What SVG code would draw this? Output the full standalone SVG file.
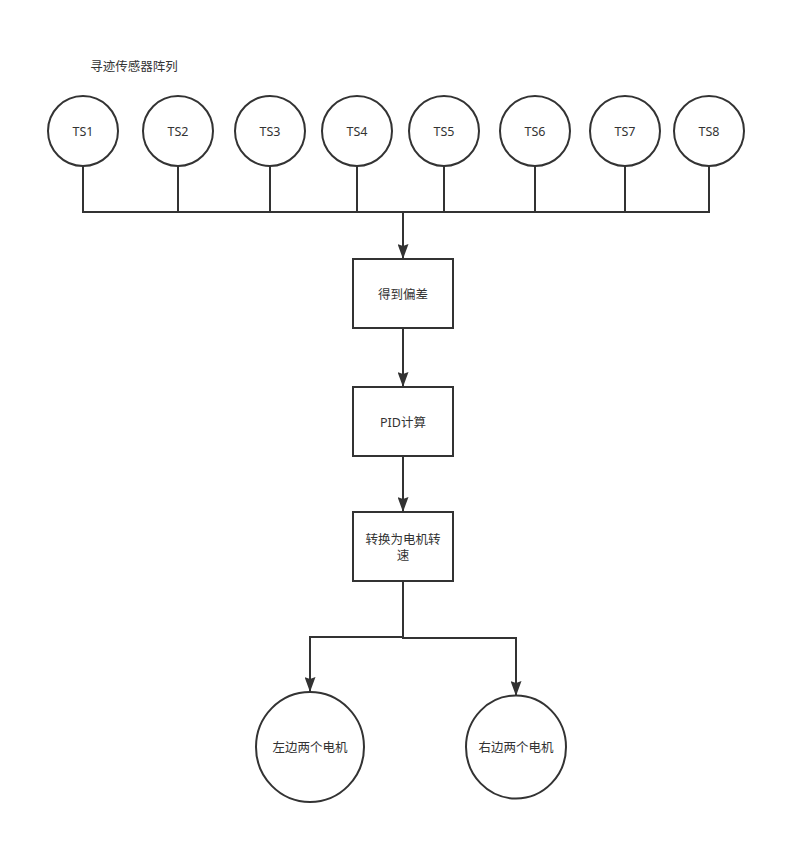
<svg xmlns="http://www.w3.org/2000/svg" width="806" height="864" viewBox="0 0 806 864">
<style>
.n{fill:#fff;stroke:#333;stroke-width:2}
.t{font-family:"Noto Sans","Noto Sans CJK SC",sans-serif;font-size:12.5px;fill:#333;text-anchor:middle;dominant-baseline:central}
.c{fill:none;stroke:#333;stroke-width:2}
</style>
<defs>
<marker id="b" markerUnits="userSpaceOnUse" markerWidth="15" markerHeight="11" refX="14" refY="5.5" orient="auto" viewBox="0 0 15 11">
<path d="M0,0 L15,5.5 L0,11 L2,5.5 Z" fill="#333"/>
</marker>
</defs>
<text class="t" x="134" y="66">寻迹传感器阵列</text>
<g id="connectors">
<path class="c" d="M83,166 V212 H709 V166"/>
<path class="c" d="M178,166 V212 M270,166 V212 M357,166 V212 M444,166 V212 M535,166 V212 M625,166 V212"/>
<path class="c" d="M403,212 V258" marker-end="url(#b)"/>
<path class="c" d="M403,328 V386" marker-end="url(#b)"/>
<path class="c" d="M403,456 V511" marker-end="url(#b)"/>
<path class="c" d="M403,581 V637 H310 V691" marker-end="url(#b)"/>
<path class="c" d="M403,637 V638 H516 V695" marker-end="url(#b)"/>
</g>
<g id="ts1"><ellipse class="n" cx="83" cy="131" rx="35" ry="35"/><text class="t" x="83" y="131">TS1</text></g>
<g id="ts2"><ellipse class="n" cx="178" cy="131" rx="35" ry="35"/><text class="t" x="178" y="131">TS2</text></g>
<g id="ts3"><ellipse class="n" cx="270" cy="131" rx="35" ry="35"/><text class="t" x="270" y="131">TS3</text></g>
<g id="ts4"><ellipse class="n" cx="357" cy="131" rx="35" ry="35"/><text class="t" x="357" y="131">TS4</text></g>
<g id="ts5"><ellipse class="n" cx="444" cy="131" rx="35" ry="35"/><text class="t" x="444" y="131">TS5</text></g>
<g id="ts6"><ellipse class="n" cx="535" cy="131" rx="35" ry="35"/><text class="t" x="535" y="131">TS6</text></g>
<g id="ts7"><ellipse class="n" cx="625" cy="131" rx="35" ry="35"/><text class="t" x="625" y="131">TS7</text></g>
<g id="ts8"><ellipse class="n" cx="709" cy="131" rx="35" ry="35"/><text class="t" x="709" y="131">TS8</text></g>
<g id="deviation"><rect class="n" x="353" y="259" width="100" height="69"/><text class="t" x="403" y="294">得到偏差</text></g>
<g id="pid"><rect class="n" x="353" y="387" width="100" height="69"/><text class="t" x="403" y="422">PID计算</text></g>
<g id="convert"><rect class="n" x="353" y="512" width="100" height="69"/><text class="t" x="403" y="539">转换为电机转</text><text class="t" x="403" y="555">速</text></g>
<g id="left"><ellipse class="n" cx="310" cy="747" rx="54" ry="55"/><text class="t" x="310" y="747">左边两个电机</text></g>
<g id="right"><ellipse class="n" cx="516" cy="747" rx="50" ry="51.5"/><text class="t" x="516" y="747">右边两个电机</text></g>
</svg>
